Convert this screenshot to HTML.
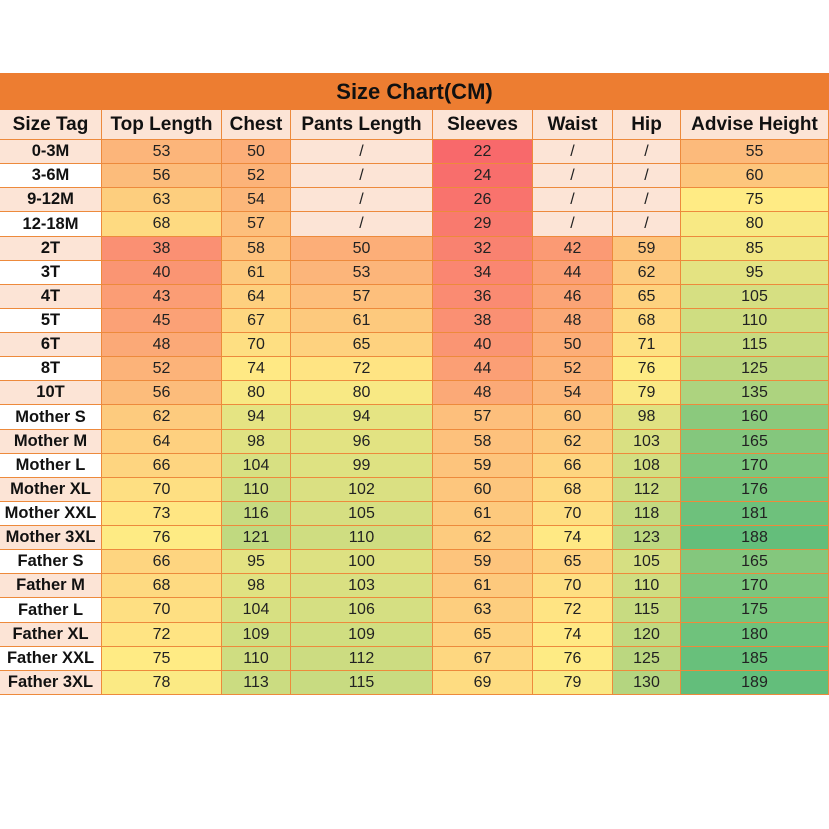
<!DOCTYPE html>
<html><head><meta charset="utf-8"><style>
body{margin:0;width:829px;height:829px;background:#fff;position:relative;overflow:hidden;font-family:"Liberation Sans",sans-serif;}
.c{position:absolute;box-sizing:border-box;border-right:1px solid #ED8A3C;border-bottom:1px solid #ED8A3C;display:flex;align-items:center;justify-content:center;color:#222;font-size:16px;white-space:nowrap;}
.h{font-weight:bold;font-size:19px;background:#FCE4D6;color:#111;}
.t{font-weight:bold;font-size:16.5px;color:#111;}
#title{position:absolute;left:0;top:73px;width:829px;height:37px;background:#ED7D31;display:flex;align-items:center;justify-content:center;font-weight:bold;font-size:22px;color:#111;}
</style></head><body>
<div id="title">Size Chart(CM)</div>
<div id="grid"></div>
<script>
const headers=["Size Tag","Top Length","Chest","Pants Length","Sleeves","Waist","Hip","Advise Height"];
const sizes=["0-3M","3-6M","9-12M","12-18M","2T","3T","4T","5T","6T","8T","10T","Mother S","Mother M","Mother L","Mother XL","Mother XXL","Mother 3XL","Father S","Father M","Father L","Father XL","Father XXL","Father 3XL"];
const topLength=[53,56,63,68,38,40,43,45,48,52,56,62,64,66,70,73,76,66,68,70,72,75,78];
const chest=[50,52,54,57,58,61,64,67,70,74,80,94,98,104,110,116,121,95,98,104,109,110,113];
const pantsLength=[null,null,null,null,50,53,57,61,65,72,80,94,96,99,102,105,110,100,103,106,109,112,115];
const sleeves=[22,24,26,29,32,34,36,38,40,44,48,57,58,59,60,61,62,59,61,63,65,67,69];
const waist=[null,null,null,null,42,44,46,48,50,52,54,60,62,66,68,70,74,65,70,72,74,76,79];
const hip=[null,null,null,null,59,62,65,68,71,76,79,98,103,108,112,118,123,105,110,115,120,125,130];
const adviseHeight=[55,60,75,80,85,95,105,110,115,125,135,160,165,170,176,181,188,165,170,175,180,185,189];
const cols=[topLength,chest,pantsLength,sleeves,waist,hip,adviseHeight];
const xs=[0,102,222,291,433,533,613,681,829];
const top0=110,hh=30,rh=(695-140)/23;
function lerp(a,b,t){return a.map((v,i)=>Math.round(v+(b[i]-v)*t));}
function color(v){const lo=22,mid=75,hi=189;const r=[248,105,107],y=[255,235,132],g=[99,190,123];
 let c=v<=mid?lerp(r,y,(v-lo)/(mid-lo)):lerp(y,g,(v-mid)/(hi-mid));return `rgb(${c})`;}
const grid=document.getElementById('grid');
function cell(x0,x1,y,h,txt,cls,bg,name){const d=document.createElement('div');d.className='c '+cls;
 d.style.left=x0+'px';d.style.width=(x1-x0)+'px';d.style.top=y+'px';d.style.height=h+'px';
 if(bg)d.style.background=bg;d.textContent=txt;
 
 
 grid.appendChild(d);}
headers.forEach((h,i)=>cell(xs[i],xs[i+1],top0,hh,h,'h',null,'header-'+h.toLowerCase().replace(/ /g,'-')));
sizes.forEach((s,r)=>{const y=140+r*rh;const h=Math.round(140+(r+1)*rh)-Math.round(y);
 cell(xs[0],xs[1],Math.round(y),h,s,'t',r%2===0?'#FCE4D6':'#fff','size-tag-cell');
 cols.forEach((arr,ci)=>{const v=arr[r];cell(xs[ci+1],xs[ci+2],Math.round(y),h,v==null?'/':String(v),'',v==null?'#FCE4D6':color(v),'value-cell');});});
</script>
</body></html>
